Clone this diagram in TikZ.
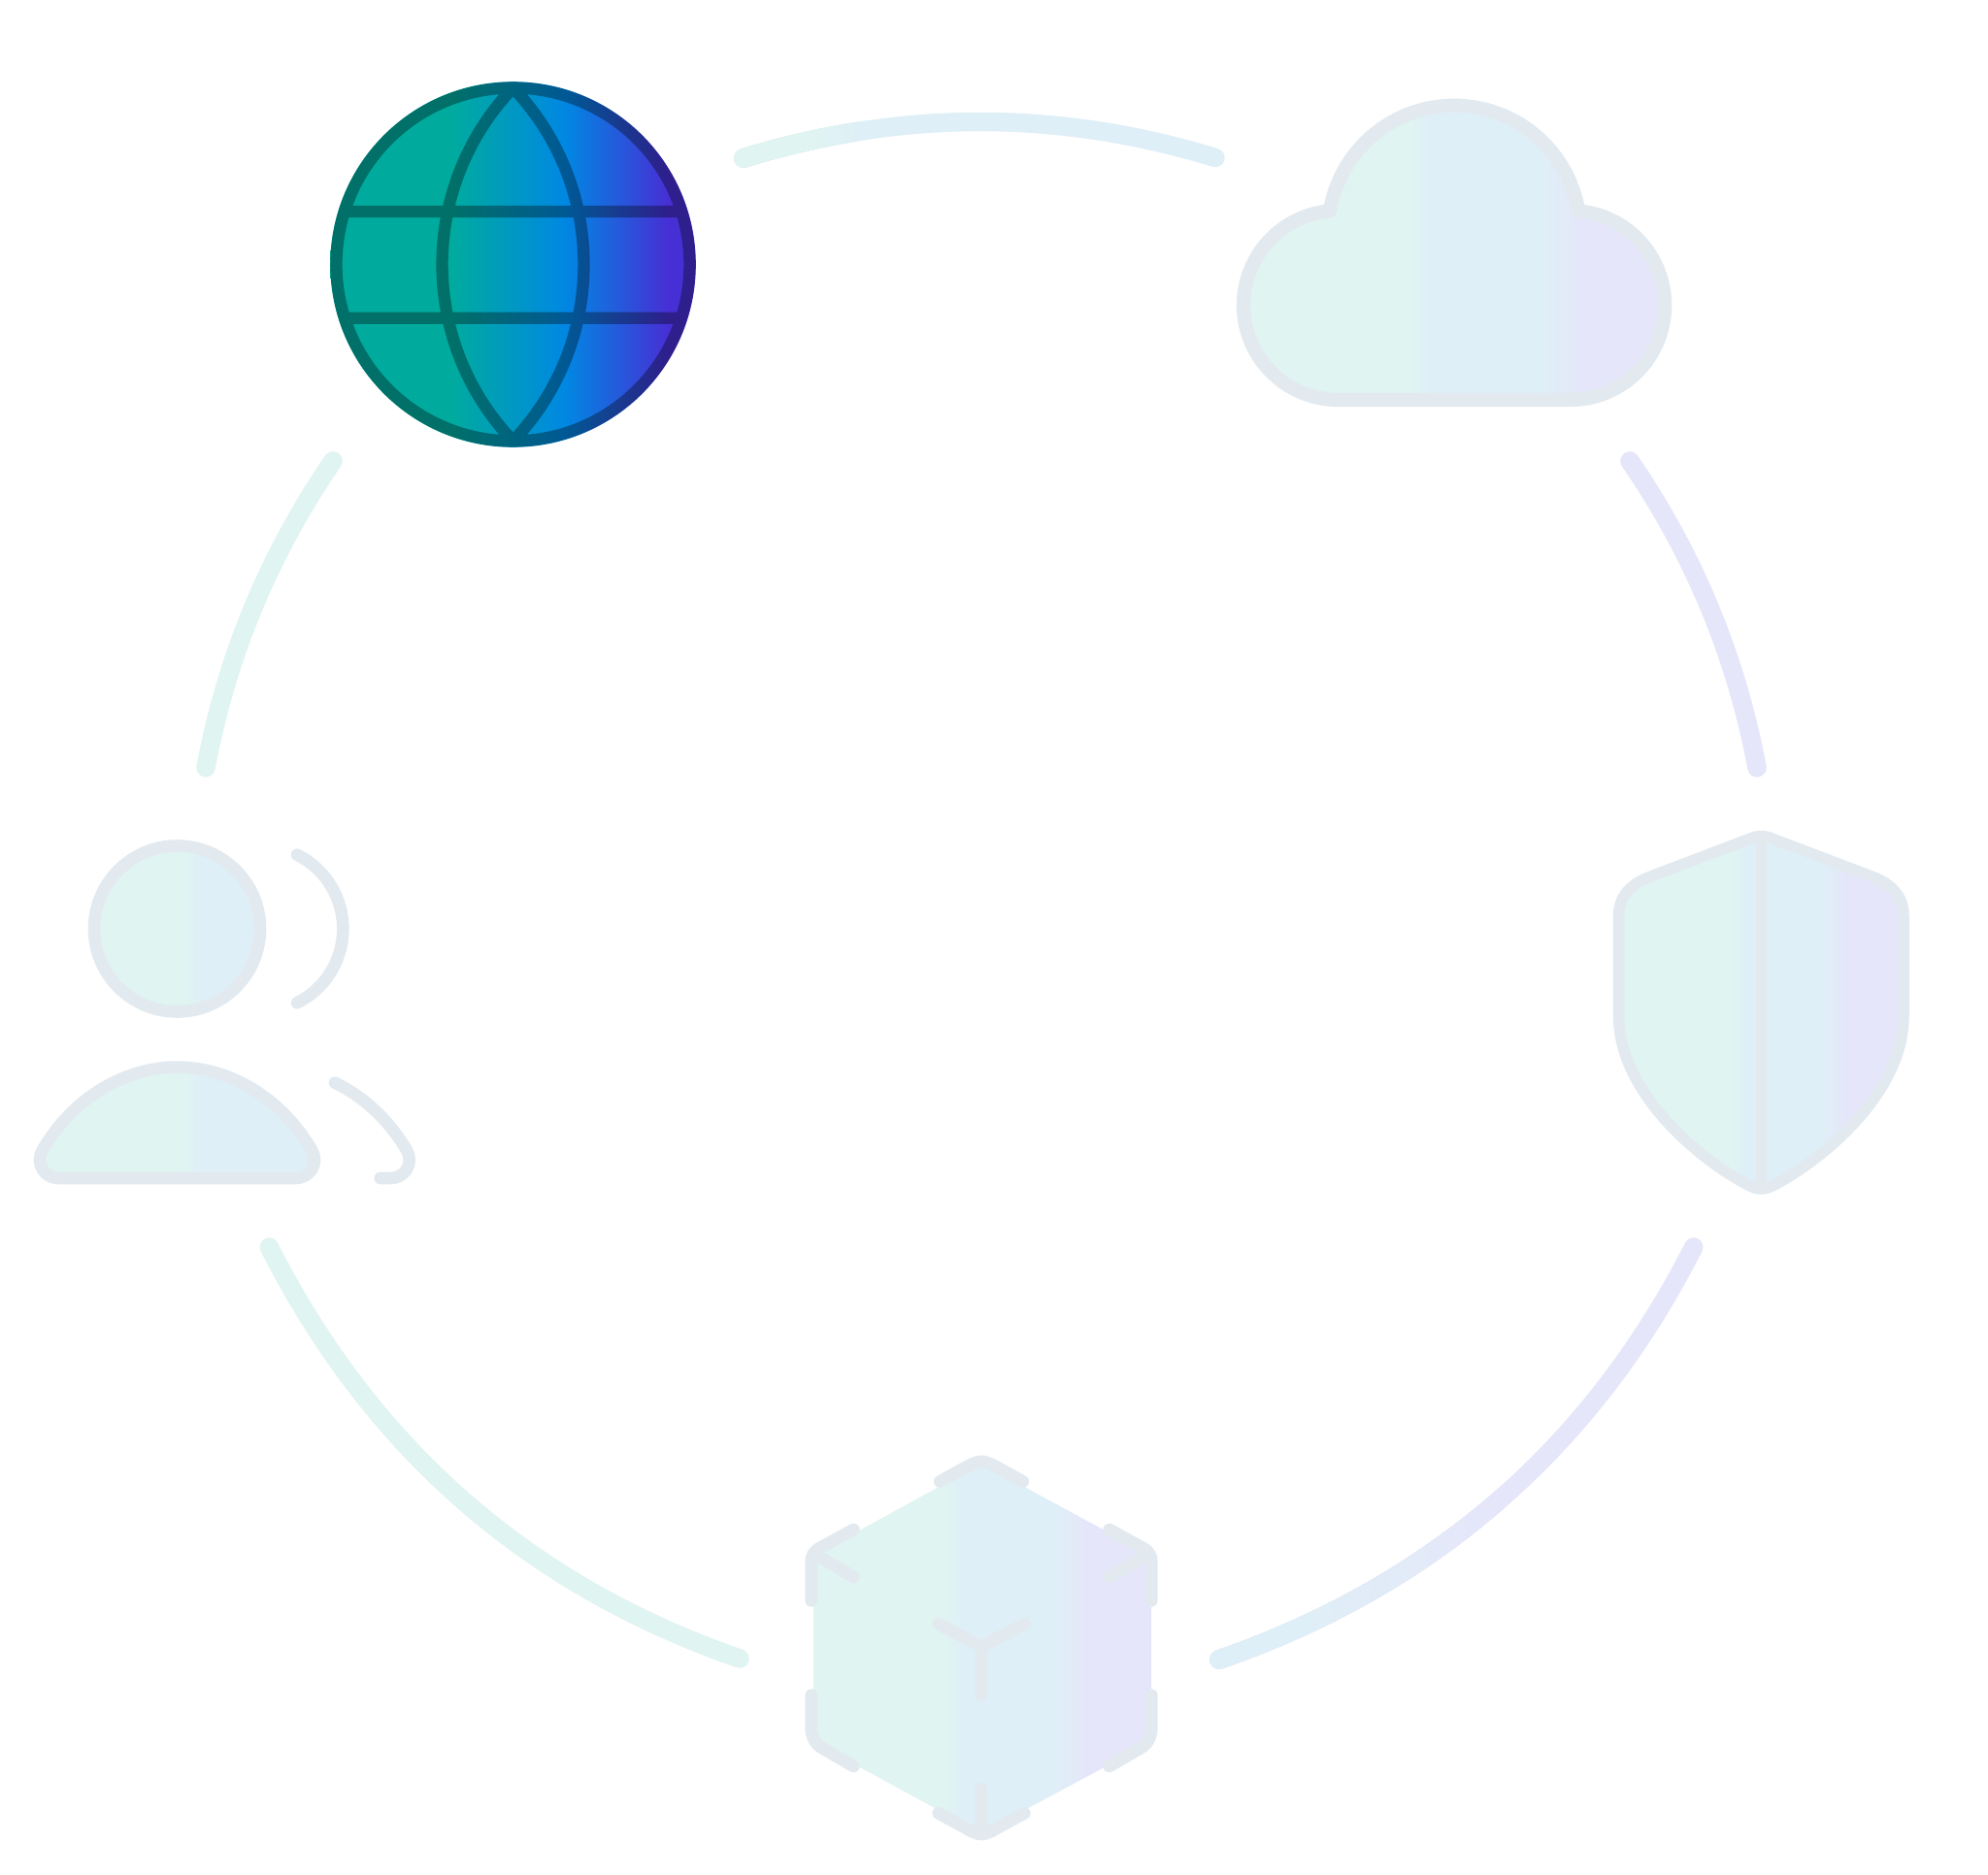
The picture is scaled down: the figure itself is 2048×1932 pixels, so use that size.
\documentclass[tikz,border=0pt]{standalone}
\usetikzlibrary{calc}
\definecolor{pg}{HTML}{E0F4F1}
\definecolor{pb}{HTML}{DFEFF7}
\definecolor{pl}{HTML}{E5E6F9}
\definecolor{edge}{HTML}{E2EAF0}
\definecolor{gg}{HTML}{00AB9E}
\definecolor{gb}{HTML}{0088E2}
\definecolor{gp}{HTML}{4630D5}
\pgfdeclarehorizontalshading{pale}{100bp}{color(0bp)=(pg); color(45bp)=(pg); color(47bp)=(pb); color(60bp)=(pb); color(65bp)=(pl); color(100bp)=(pl)}
\pgfdeclarehorizontalshading{vivid}{100bp}{color(0bp)=(gg); color(41.5bp)=(gg); color(57bp)=(gb); color(71bp)=(gp); color(100bp)=(gp)}
\tikzset{
  ringline/.style={line width=19.5pt,line cap=round},
  iconline/.style={draw=edge,line cap=round,line join=round},
  globeline/.style={draw=black,draw opacity=0.34,line width=12.3pt,line join=round}
}
% curve from #1 to #3 with quadratic tip #2
\newcommand{\ringpath}[3]{(#1) .. controls ($(#1)!0.6667!(#2)$) and ($(#3)!0.6667!(#2)$) .. (#3)}
\newcommand{\ringtip}[4]{\coordinate (#1) at ($2*(#3)-0.5*(#2)-0.5*(#4)$);}
\newcommand{\paleshade}[4]{\shade[shading=pale] (#1,#2) rectangle (#3,#4);}
\newcommand{\cloudoutline}{(1378.5,412) arc[start angle=90,end angle=265,radius=97.5pt] arc[start angle=189.4,end angle=350.6,radius=129.8pt] arc[start angle=275,end angle=450,radius=97.5pt] -- cycle}
\newcommand{\shieldoutline}{(1814.3,861.5) .. controls (1819,861.5) and (1823,863) .. (1828,865) -- (1928,903) .. controls (1950,911) and (1961,925) .. (1961,943) -- (1961,1047) .. controls (1961,1125) and (1880,1193) .. (1829.6,1220) .. controls (1823,1223.7) and (1819,1225) .. (1814.3,1225) .. controls (1809.6,1225) and (1805.6,1223.7) .. (1799,1220) .. controls (1748.6,1193) and (1667.6,1125) .. (1667.6,1047) -- (1667.6,943) .. controls (1667.6,925) and (1678.6,911) .. (1700.6,903) -- (1800.6,865) .. controls (1805.6,863) and (1809.6,861.5) .. (1814.3,861.5) -- cycle}
\newcommand{\bodyoutline}{(60,1214) arc[start angle=90,end angle=210,radius=19pt] .. controls (74.5,1131.8) and (128,1099.6) .. (182.5,1099.6) .. controls (237,1099.6) and (290.5,1131.8) .. (321.45,1185.5) arc[start angle=-30,end angle=90,radius=19pt] -- cycle}
\newcommand{\hexoutline}{(1011,1508) -- (1186,1603) -- (1186,1795) -- (1011,1889) -- (838,1795) -- (838,1603) -- cycle}
\begin{document}
\begin{tikzpicture}[x=1pt,y=1pt,yscale=-1]
\useasboundingbox (0,0) rectangle (2048,1932);
\fill[white] (0,0) rectangle (2048,1932);

% ring coordinates
\coordinate (topA) at (766,163);   \coordinate (topM) at (1009,125.5);   \coordinate (topB) at (1252,162.5);
\coordinate (leftA) at (343,475);  \coordinate (leftM) at (260.8,626.1); \coordinate (leftB) at (212,791);
\coordinate (rightA) at (1679,475);\coordinate (rightM) at (1761.2,626.1); \coordinate (rightB) at (1810,791);
\coordinate (blA) at (277.4,1285);\coordinate (blM) at (477.3,1546.3); \coordinate (blB) at (762,1709);
\coordinate (brA) at (1256,1710);\coordinate (brM) at (1543.7,1546.3); \coordinate (brB) at (1744.7,1285);
\ringtip{topQ}{topA}{topM}{topB}
\ringtip{leftQ}{leftA}{leftM}{leftB}
\ringtip{rightQ}{rightA}{rightM}{rightB}
\ringtip{blQ}{blA}{blM}{blB}
\ringtip{brQ}{brA}{brM}{brB}

% ring arcs
\draw[ringline,pg] \ringpath{leftA}{leftQ}{leftB};
\draw[ringline,pl] \ringpath{rightA}{rightQ}{rightB};
\draw[ringline,pg] \ringpath{blA}{blQ}{blB};
% top arc: green fading into blue
\draw[ringline,pb] \ringpath{topA}{topQ}{topB};
\foreach \i in {0,...,10}{
  \pgfmathsetmacro{\xc}{891-5.5*\i}
  \pgfmathsetmacro{\pc}{\i*10}
  \begin{scope}
    \clip (700,60) rectangle (\xc,220);
    \draw[ringline,pg!\pc!pb] \ringpath{topA}{topQ}{topB};
  \end{scope}
}
% lower right arc: blue fading into lavender
\draw[ringline,pl] \ringpath{brA}{brQ}{brB};
\foreach \i in {0,...,10}{
  \pgfmathsetmacro{\xc}{1548-19.6*\i}
  \pgfmathsetmacro{\pc}{\i*10}
  \begin{scope}
    \clip (1200,1250) rectangle (\xc,1800);
    \draw[ringline,pb!\pc!pl] \ringpath{brA}{brQ}{brB};
  \end{scope}
}

% globe
\begin{scope}
  \clip (528.5,272.5) circle[radius=188.3pt];
  \shade[shading=vivid] (340,84) rectangle (717,461);
\end{scope}
\draw[globeline]
  (528.5,272.5) circle[radius=182pt]
  (354.9,218) -- (702.1,218)
  (354.9,327.7) -- (702.1,327.7)
  (528.5,90.5) arc[start angle=223.7,end angle=136.3,radius=263.4pt]
  arc[start angle=43.7,end angle=-43.7,radius=263.4pt] -- cycle;

% cloud
\begin{scope}
  \clip \cloudoutline;
  \paleshade{1274}{95}{1722}{425}
\end{scope}
\draw[iconline,line width=14.3pt] \cloudoutline;

% shield
\begin{scope}
  \clip \shieldoutline;
  \paleshade{1662}{850}{1967}{1235}
\end{scope}
\draw[iconline,line width=11.5pt] \shieldoutline;
\draw[iconline,line width=11.5pt,line cap=butt] (1814.3,861.5) -- (1814.3,1225);

% cube
\begin{scope}
  \clip \hexoutline;
  \paleshade{829.3}{1495}{1193.3}{1900}
\end{scope}
\draw[iconline,line width=12.7pt]
  (968.3,1526.5) -- (990,1514.5) .. controls (1011,1503) and (1011,1503) .. (1032,1514.5) -- (1053.7,1526.5)
  (879.3,1576) -- (843.3,1595.7) .. controls (838.5,1598.5) and (835.7,1603.5) .. (835.7,1609) -- (835.7,1649.3)
  (840,1601.7) -- (879.3,1625)
  (1142.7,1576) -- (1178.7,1595.7) .. controls (1183.5,1598.5) and (1186.3,1603.5) .. (1186.3,1609) -- (1186.3,1649.3)
  (1182,1601.7) -- (1142.7,1625)
  (835.7,1746.7) -- (835.7,1780) .. controls (835.7,1788) and (839,1796) .. (845,1800) -- (879.3,1820)
  (1186.3,1746.7) -- (1186.3,1780) .. controls (1186.3,1788) and (1183,1796) .. (1177,1800) -- (1142.7,1820)
  (966.7,1868.3) -- (990,1881) .. controls (1011,1893) and (1011,1893) .. (1032,1881) -- (1055.3,1868.3)
  (1011,1843.3) -- (1011,1886)
  (966.7,1673.3) -- (1011,1696.7) -- (1055.3,1673.3)
  (1011,1696.7) -- (1011,1746.7);

% person
\begin{scope}
  \clip (182.5,957) circle[radius=85.5pt];
  \paleshade{35}{860}{425}{1055}
\end{scope}
\begin{scope}
  \clip \bodyoutline;
  \paleshade{35}{1090}{425}{1220}
\end{scope}
\draw[iconline,line width=12.6pt] (182.5,957) circle[radius=85.5pt];
\draw[iconline,line width=12.6pt] \bodyoutline;
\draw[iconline,line width=12.6pt] (306,880.7) arc[start angle=-63.6,end angle=63.6,radius=85.2pt];
\draw[iconline,line width=12.6pt] (345,1115.7) .. controls (375,1130) and (401,1154.5) .. (419.15,1185.5) arc[start angle=-30,end angle=90,radius=19pt] -- (391.7,1214);
\end{tikzpicture}
\end{document}
